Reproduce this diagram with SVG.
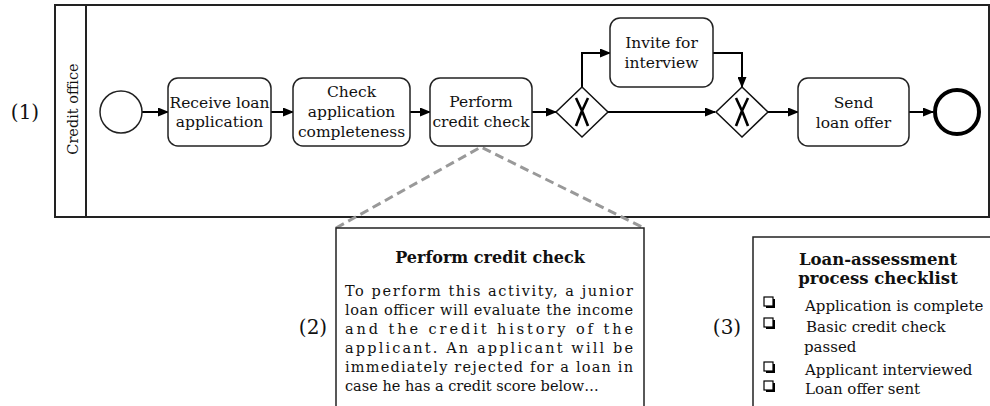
<svg xmlns="http://www.w3.org/2000/svg" width="990" height="406" viewBox="0 0 990 406">
<defs>
<marker id="ah" markerWidth="11" markerHeight="9" refX="10" refY="4.5" orient="auto" markerUnits="userSpaceOnUse">
<path d="M0,0 L11,4.5 L0,9 z" fill="#000"/>
</marker>
<style>
text{font-family:"DejaVu Serif","Liberation Serif",serif;fill:#111}
.lbl{font-size:15.5px;text-anchor:middle}
.task{fill:#fff;stroke:#222;stroke-width:1.5}
.gw{fill:#fff;stroke:#111;stroke-width:1.5}
.flow{fill:none;stroke:#000;stroke-width:2;marker-end:url(#ah)}
.num{font-size:20px;text-anchor:middle}
.body{font-size:14.5px}
.chk{font-size:15px}
.bold{font-weight:bold;text-anchor:middle}
.cb{fill:#fff;stroke:#000;stroke-width:1.2}
.xm{fill:none;stroke:#000;stroke-width:2.6}
</style>
</defs>
<rect width="990" height="406" fill="#fff"/>
<text class="num" x="25" y="119">(1)</text>
<text class="num" x="313" y="334">(2)</text>
<text class="num" x="727" y="334">(3)</text>
<g id="pool">
<rect x="55" y="5" width="934" height="212" fill="none" stroke="#222" stroke-width="2"/>
<line x1="86" y1="5" x2="86" y2="217" stroke="#222" stroke-width="2"/>
<text x="0" y="0" font-size="14.5" text-anchor="middle" transform="translate(78,109) rotate(-90)">Credit office</text>
</g>
<g id="connectors">
<line class="flow" x1="142" y1="112" x2="168" y2="112"/>
<line class="flow" x1="271" y1="112" x2="293" y2="112"/>
<line class="flow" x1="410" y1="112" x2="430" y2="112"/>
<line class="flow" x1="532" y1="112" x2="556" y2="112"/>
<polyline class="flow" points="582,87 582,53 610,53"/>
<line class="flow" x1="608" y1="112" x2="715" y2="112"/>
<polyline class="flow" points="713,53 742,53 742,87"/>
<line class="flow" x1="768" y1="112" x2="798" y2="112"/>
<line class="flow" x1="909" y1="112" x2="933" y2="112"/>
<polyline points="336,228 481,147 644,228" fill="none" stroke="#999" stroke-width="3" stroke-dasharray="9,5"/>
</g>
<g id="start"><circle cx="121" cy="112" r="21" fill="#fff" stroke="#222" stroke-width="1.5"/></g>
<g id="receive">
<rect class="task" x="168" y="78" width="103" height="68" rx="10"/>
<text class="lbl" x="219.5" y="108">Receive loan</text>
<text class="lbl" x="219.5" y="127">application</text>
</g>
<g id="check">
<rect class="task" x="293" y="78" width="117" height="68" rx="10"/>
<text class="lbl" x="351.5" y="97">Check</text>
<text class="lbl" x="351.5" y="117">application</text>
<text class="lbl" x="351.5" y="137">completeness</text>
</g>
<g id="perform">
<rect class="task" x="430" y="78" width="102" height="68" rx="10"/>
<text class="lbl" x="481" y="107">Perform</text>
<text class="lbl" x="481" y="127">credit check</text>
</g>
<g id="gw1">
<path class="gw" d="M582,87 L608,112 L582,137 L556,112 z"/>
<path class="xm" d="M576,98 Q583,112 588,126 M588,98 Q581,112 576,126"/>
</g>
<g id="invite">
<rect class="task" x="610" y="18" width="103" height="69" rx="10"/>
<text class="lbl" x="661.5" y="48">Invite for</text>
<text class="lbl" x="661.5" y="68">interview</text>
</g>
<g id="gw2">
<path class="gw" d="M742,87 L768,112 L742,137 L716,112 z"/>
<path class="xm" d="M736,98 Q743,112 748,126 M748,98 Q741,112 736,126"/>
</g>
<g id="send">
<rect class="task" x="798" y="78" width="111" height="68" rx="10"/>
<text class="lbl" x="853.5" y="108">Send</text>
<text class="lbl" x="853.5" y="128">loan offer</text>
</g>
<g id="end"><circle cx="957" cy="112" r="22" fill="#fff" stroke="#000" stroke-width="4"/></g>
<g id="annotation">
<rect x="336" y="228" width="308" height="190" fill="#fff" stroke="#222" stroke-width="1.5"/>
<text class="bold" x="490" y="263" font-size="16">Perform credit check</text>
<text class="body" x="345" y="296" textLength="288" lengthAdjust="spacing">To perform this activity, a junior</text>
<text class="body" x="345" y="315" textLength="288" lengthAdjust="spacing">loan officer will evaluate the income</text>
<text class="body" x="345" y="334" textLength="288" lengthAdjust="spacing">and the credit history of the</text>
<text class="body" x="345" y="353" textLength="288" lengthAdjust="spacing">applicant. An applicant will be</text>
<text class="body" x="345" y="372" textLength="288" lengthAdjust="spacing">immediately rejected for a loan in</text>
<text class="body" x="345" y="391">case he has a credit score below…</text>
</g>
<g id="checklist">
<rect x="753" y="237" width="250" height="180" fill="#fff" stroke="#222" stroke-width="1.5"/>
<text class="bold" x="878" y="265" font-size="16.5">Loan-assessment</text>
<text class="bold" x="878" y="284" font-size="16.5">process checklist</text>
<rect x="766" y="299" width="9" height="9" fill="#000"/><rect class="cb" x="764" y="297" width="9" height="9"/>
<rect x="766" y="320" width="9" height="9" fill="#000"/><rect class="cb" x="764" y="318" width="9" height="9"/>
<rect x="766" y="364" width="9" height="9" fill="#000"/><rect class="cb" x="764" y="362" width="9" height="9"/>
<rect x="766" y="383" width="9" height="9" fill="#000"/><rect class="cb" x="764" y="381" width="9" height="9"/>
<text class="chk" x="805" y="311">Application is complete</text>
<text class="chk" x="806" y="332">Basic credit check</text>
<text class="chk" x="804" y="352">passed</text>
<text class="chk" x="805" y="375">Applicant interviewed</text>
<text class="chk" x="805" y="394">Loan offer sent</text>
</g>
</svg>
